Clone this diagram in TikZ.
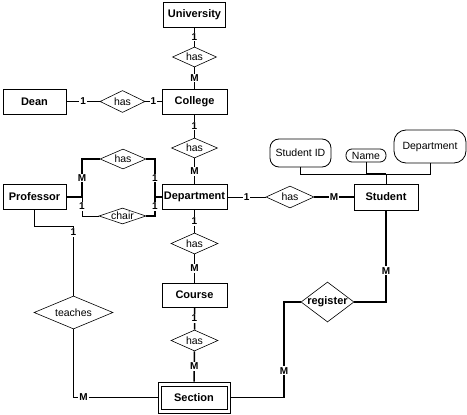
\documentclass[tikz,border=0pt]{standalone}
\usepackage{fontspec}
\setmainfont{Liberation Sans}
\usetikzlibrary{shapes.geometric}

\begin{document}
\begin{tikzpicture}[x=1pt, y=-1pt,
    ent/.style={draw, line width=0.8pt, inner sep=0pt, minimum width=64pt, minimum height=25pt, font=\bfseries\fontsize{11}{13}\selectfont},
    rel/.style={draw, diamond, aspect=3, inner sep=0pt, line width=0.6pt, font=\fontsize{10.5}{12}\selectfont},
    attr/.style={draw, line width=0.8pt, inner sep=0pt, font=\fontsize{10.5}{12}\selectfont},
    link/.style={line width=1.5pt},
    thinlink/.style={line width=0.8pt},
    card/.style={fill=white, inner sep=1pt, font=\bfseries\fontsize{10}{12}\selectfont}]
  \useasboundingbox (0,0) rectangle (467,415);

  % entities
  \node[ent, minimum width=62pt] (univ) at (194.5,14.5) {University};
  \node[ent, minimum width=65pt] (coll) at (194.5,101.5) {College};
  \node[ent, minimum width=63pt] (dean) at (34.5,101.5) {Dean};
  \node[ent, minimum width=65pt] (dept) at (194.5,197) {Department};
  \node[ent, minimum width=63pt] (prof) at (34.5,197) {Professor};
  \node[ent, minimum height=26pt] (stud) at (386,197) {Student};
  \node[ent, minimum width=65pt, minimum height=24pt] (course) at (194.5,295) {Course};
  \node[ent, minimum width=72pt, minimum height=31pt] (sect) at (194,397.5) {Section};
  \draw[line width=0.8pt] ([xshift=4pt, yshift=4pt]sect.south west) rectangle ([xshift=-3pt, yshift=-5pt]sect.north east);

  % relationships
  \node[rel, minimum width=44pt, minimum height=20pt] (has1) at (194.5,57) {has};
  \node[rel, minimum width=45pt, minimum height=22pt] (hasD) at (122.5,101.5) {has};
  \node[rel, minimum width=46pt, minimum height=20pt] (hasC) at (194.5,148) {has};
  \node[rel, minimum width=46pt, minimum height=20pt] (hasP) at (123,159) {has};
  \node[rel, minimum width=47pt, minimum height=16pt] (chair) at (122.5,216) {chair};
  \node[rel, minimum width=48pt, minimum height=22pt] (hasS) at (290,197) {has};
  \node[rel, minimum width=47pt, minimum height=21pt] (hasCr) at (194.5,243.5) {has};
  \node[rel, minimum width=47pt, minimum height=21pt] (hasSe) at (194.5,340.5) {has};
  \node[rel, minimum width=79pt, minimum height=33pt] (teach) at (73.5,312.5) {teaches};
  \node[rel, minimum width=53pt, minimum height=40pt, font=\bfseries\fontsize{11}{13}\selectfont] (reg) at (327.5,302) {\makebox[0pt]{register}};

  % attributes
  \node[attr, rounded corners=9pt, minimum width=61pt, minimum height=28pt] (sid) at (300.5,153) {Student ID};
  \node[attr, rounded corners=6pt, minimum width=40pt, minimum height=13pt] (nm) at (366,155.5) {Name};
  \node[attr, rounded corners=12pt, minimum width=72pt, minimum height=33pt] (dattr) at (430,146.5) {Department};

  % junctions
  \coordinate (pj) at (82,197);
  \coordinate (dj) at (155,197);
  \coordinate (tj) at (73.5,226);
  \coordinate (rj) at (284,397.5);
  \coordinate (aj) at (386,174);

  % connectors
  \draw[link] (univ) -- node[card] {1} (has1) -- node[card] {M} (coll);
  \draw[thinlink] (dean) -- node[card] {1} (hasD) -- node[card] {1} (coll);
  \draw[link] (coll) -- node[card] {1} (hasC) -- node[card] {M} (dept);
  \draw[link] (dept) -- node[card] {1} (hasCr) -- node[card] {M} (course);
  \draw[link] (course) -- node[card] {1} (hasSe) -- node[card] {M} (sect);
  \draw[thinlink] (dept) -- node[card] {1} (hasS);
  \draw[link] (hasS) -- node[card] {M} (stud);

  \draw[link] (prof) -- (pj) |- node[card, pos=0.25] {M} (hasP);
  \draw[thinlink] (pj) |- node[card, pos=0.25] {1} (chair);
  \draw[link] (hasP) -| node[card, pos=0.75] {1} (dj) -- (dept);
  \draw[link] (chair) -| node[card, pos=0.75] {1} (dj);

  \draw[thinlink] (prof.south) |- (tj);
  \draw[link] (tj) -- node[card, pos=0.09] {1} (teach);
  \draw[link] (teach) |- node[card, pos=0.56] {M} (sect);

  \draw[link] (stud) |- node[card, pos=0.33] {M} (reg);
  \draw[link] (reg) -| node[card, pos=0.86] {M} (rj) -- (sect);

  \draw[thinlink] (sid) -- (sid |- aj) -- (dattr |- aj) -- (dattr);
  \draw[thinlink] (nm) -- (nm |- aj);
  \draw[link] (nm |- aj) -- (aj);
  \draw[thinlink] (stud) -- (aj);
\end{tikzpicture}
\end{document}
